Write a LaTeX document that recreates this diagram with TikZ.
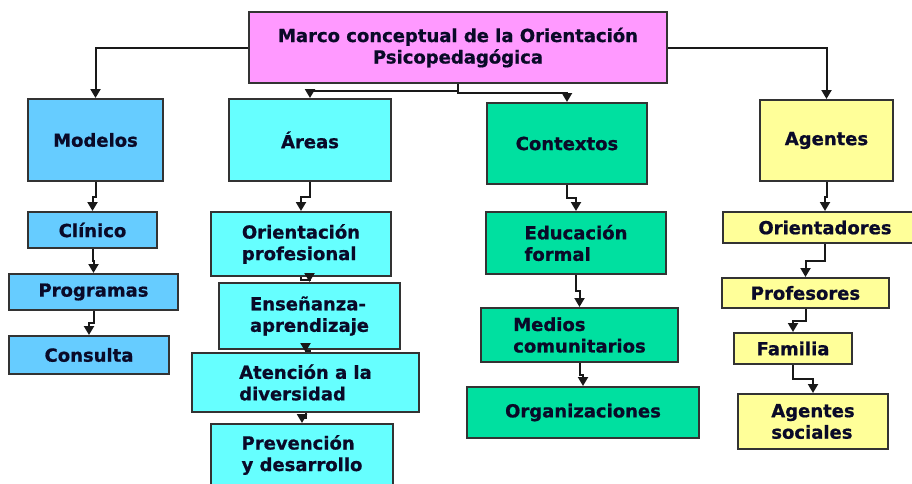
\documentclass[tikz,border=0pt]{standalone}
\usepackage{fontspec}
\setmainfont{DejaVu Sans}[BoldFeatures={FakeBold=0.8}]
\usetikzlibrary{arrows.meta,calc}
\definecolor{marcoc}{RGB}{255,153,255}
\definecolor{modelosc}{RGB}{102,204,255}
\definecolor{areasc}{RGB}{102,255,255}
\definecolor{contextosc}{RGB}{0,224,160}
\definecolor{agentesc}{RGB}{255,255,153}
\definecolor{textoc}{RGB}{10,10,40}
\tikzstyle{box}=[rectangle,draw=black!80,line width=2pt,inner sep=0pt,text=textoc,font=\fontsize{18}{21.5}\selectfont\bfseries,align=left]
\tikzstyle{edge}=[draw,line width=2pt,black!90,-{Triangle[length=9pt,width=10pt]}]
\tikzstyle{elbow}=[to path={(\tikztostart) |- ($(\tikztostart)!0.5!(\tikztotarget)$) -| (\tikztotarget)}]

\begin{document}
\begin{tikzpicture}[x=1pt,y=-1pt]
\useasboundingbox (0,0) rectangle (912,483);

% Titulo
\node[box,fill=marcoc,align=center,minimum width=418pt,minimum height=71pt] (top) at (458,47.5) {Marco conceptual de la Orientación\\Psicopedagógica};

% Columnas: name/x1/y1/x2/y2/texto
\foreach \name/\xa/\ya/\xb/\yb/\txt in {modelos/28/99/163/181/{Modelos}, clinico/28/212/157/248/{Clínico}, programas/9/274/178/310/{Programas}, consulta/9/336/169/374/{Consulta}}
    \node[box,fill=modelosc,minimum width={\xb pt-\xa pt},minimum height={\yb pt-\ya pt}] (\name) at ({(\xa+\xb)/2},{(\ya+\yb)/2}) {\txt};

\foreach \name/\xa/\ya/\xb/\yb/\txt in {areas/229/99/391/181/{Áreas}, orientacion/211/212/391/276/{Orientación\\profesional}, ensenanza/219/283/400/349/{Enseñanza-\\aprendizaje}, atencion/192/353/419/412/{Atención a la\\diversidad}, prevencion/211/424/393/486/{Prevención\\y desarrollo}}
    \node[box,fill=areasc,minimum width={\xb pt-\xa pt},minimum height={\yb pt-\ya pt}] (\name) at ({(\xa+\xb)/2},{(\ya+\yb)/2}) {\txt};

\foreach \name/\xa/\ya/\xb/\yb/\txt in {contextos/487/103/647/184/{Contextos}, educacion/486/212/666/274/{Educación\\formal}, medios/481/308/678/362/{Medios\\comunitarios}, organizaciones/467/387/699/438/{Organizaciones}}
    \node[box,fill=contextosc,minimum width={\xb pt-\xa pt},minimum height={\yb pt-\ya pt}] (\name) at ({(\xa+\xb)/2},{(\ya+\yb)/2}) {\txt};

\foreach \name/\xa/\ya/\xb/\yb/\txt in {agentes/760/100/893/181/{Agentes}, orientadores/723/212/927/243/{Orientadores}, profesores/722/278/889/308/{Profesores}, familia/734/333/852/364/{Familia}, sociales/738/394/888/449/{Agentes\\sociales}}
    \node[box,fill=agentesc,minimum width={\xb pt-\xa pt},minimum height={\yb pt-\ya pt}] (\name) at ({(\xa+\xb)/2},{(\ya+\yb)/2}) {\txt};

% Conectores
\draw[edge] (top.west) -| (modelos.north);
\draw[edge] (top.east) -| (agentes.north);
\foreach \source/\dest in {top/areas, top/contextos, modelos/clinico, clinico/programas, programas/consulta, areas/orientacion, orientacion/ensenanza, ensenanza/atencion, atencion/prevencion, contextos/educacion, educacion/medios, medios/organizaciones, agentes/orientadores, orientadores/profesores, profesores/familia, familia/sociales}
    \draw[edge] (\source.south) to[elbow] (\dest.north);

\end{tikzpicture}
\end{document}
